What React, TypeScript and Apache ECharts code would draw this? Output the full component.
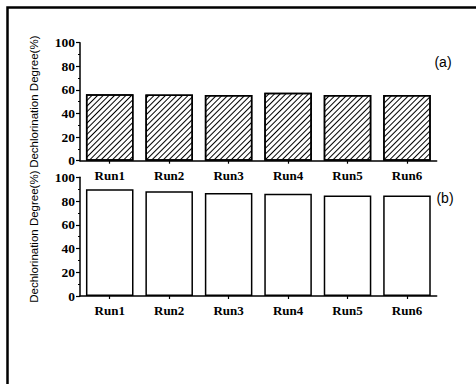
import React, { useEffect, useRef } from "react";
import * as echarts from "echarts";

const runs = ["Run1", "Run2", "Run3", "Run4", "Run5", "Run6"];
const degreeA = [56.3, 56.2, 55.7, 57.5, 55.7, 55.7];
const degreeB = [89.9, 88.2, 86.8, 86.2, 84.6, 84.6];
const yTicks = { min: 0, max: 100, interval: 20 };
const yName = "Dechlorination Degree(%)";

const serif = "'Times New Roman', 'Liberation Serif', serif";
const sans = "Arial, 'Liberation Sans', sans-serif";

function xAxisFor(gridIndex: number) {
  return {
    type: "category",
    gridIndex,
    data: runs,
    axisLine: { show: true, lineStyle: { color: "#000", width: 1.5 } },
    axisTick: { show: true, alignWithLabel: true, length: 3, lineStyle: { color: "#000", width: 1.2 } },
    axisLabel: { color: "#000", fontFamily: serif, fontWeight: "bold", fontSize: 13, margin: 8 },
    splitLine: { show: false },
  };
}

function yAxisFor(gridIndex: number) {
  return {
    type: "value",
    gridIndex,
    min: yTicks.min,
    max: yTicks.max,
    interval: yTicks.interval,
    name: yName,
    nameLocation: "middle",
    nameGap: 40,
    nameTextStyle: { color: "#000", fontFamily: sans, fontSize: 11.5 },
    axisLine: { show: true, lineStyle: { color: "#000", width: 1.5 } },
    axisTick: { show: true, length: 4, lineStyle: { color: "#000", width: 1.2 } },
    minorTick: { show: true, splitNumber: 2, length: 2, lineStyle: { color: "#000", width: 1 } },
    axisLabel: { color: "#000", fontFamily: serif, fontWeight: "bold", fontSize: 13.5, margin: 5 },
    splitLine: { show: false },
  };
}

export default function App() {
  const ref = useRef<HTMLDivElement>(null);
  useEffect(() => {
    if (!ref.current) return;
    const chart = echarts.init(ref.current, undefined, { renderer: "svg" });
    chart.setOption({
      animation: false,
      backgroundColor: "#fff",
      grid: [
        { left: 80, top: 42.7, width: 356.7, height: 118 },
        { left: 80, top: 177.3, width: 356.7, height: 118.7 },
      ],
      xAxis: [xAxisFor(0), xAxisFor(1)],
      yAxis: [yAxisFor(0), yAxisFor(1)],
      series: [
        {
          type: "bar",
          xAxisIndex: 0,
          yAxisIndex: 0,
          data: degreeA,
          barCategoryGap: "20%",
          itemStyle: {
            color: "#fff",
            borderColor: "#000",
            borderWidth: 1.5,
            decal: {
              symbol: "rect",
              symbolSize: 1,
              dashArrayX: [1, 0],
              dashArrayY: [1, 3],
              rotation: -Math.PI / 4,
              color: "#000",
              backgroundColor: "#fff",
            },
          },
        },
        {
          type: "bar",
          xAxisIndex: 1,
          yAxisIndex: 1,
          data: degreeB,
          barCategoryGap: "20%",
          itemStyle: { color: "#fff", borderColor: "#000", borderWidth: 1.5 },
        },
      ],
      graphic: [
        {
          type: "rect",
          shape: { x: 7.5, y: 7.5, width: 520, height: 420 },
          style: { fill: "none", stroke: "#000", lineWidth: 2.5 },
          silent: true,
        },
        {
          type: "text",
          x: 443,
          y: 62,
          style: { text: "(a)", font: `14px ${sans}`, fill: "#000", textAlign: "center", textVerticalAlign: "middle" },
        },
        {
          type: "text",
          x: 445,
          y: 198,
          style: { text: "(b)", font: `14px ${sans}`, fill: "#000", textAlign: "center", textVerticalAlign: "middle" },
        },
      ],
    });
    return () => chart.dispose();
  }, []);
  return (
    <div
      ref={ref}
      style={{ position: "fixed", left: 0, top: 0, width: 476, height: 384 }}
    />
  );
}
